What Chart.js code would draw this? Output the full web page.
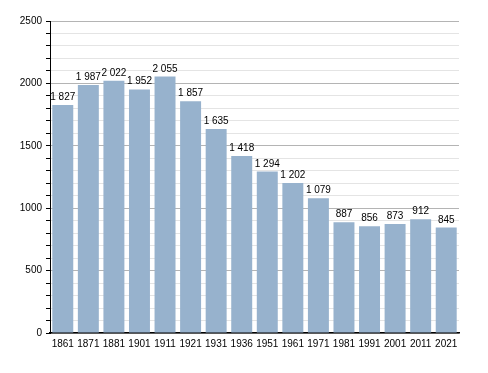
<!DOCTYPE html>
<html>
<head>
<meta charset="utf-8">
<script src="https://cdn.jsdelivr.net/npm/chart.js@4"></script>
<style>
  html, body { margin: 0; padding: 0; background: #fff; }
  #wrap { width: 488px; height: 373px; }
</style>
</head>
<body>
<div id="wrap"><canvas id="pop"></canvas></div>
<script>
const years = ["1861", "1871", "1881", "1901", "1911", "1921", "1931", "1936",
  "1951", "1961", "1971", "1981", "1991", "2001", "2011", "2021"];
const population = [1827, 1987, 2022, 1952, 2055, 1857, 1635, 1418,
  1294, 1202, 1079, 887, 856, 873, 912, 845];
const yTicks = [0, 500, 1000, 1500, 2000, 2500];

const FONT = "'Liberation Sans', Arial, sans-serif";

// number with a space as thousand separator, like "1 827"
function fmt(n) {
  return String(n).replace(/\B(?=(\d{3})+(?!\d))/g, " ");
}

// value labels above each bar
const barLabels = {
  id: "barLabels",
  afterDatasetsDraw(chart) {
    const ctx = chart.ctx;
    const meta = chart.getDatasetMeta(0);
    ctx.save();
    ctx.font = "10px " + FONT;
    ctx.fillStyle = "#000";
    ctx.textAlign = "center";
    ctx.textBaseline = "alphabetic";
    meta.data.forEach((bar, i) => {
      ctx.fillText(fmt(population[i]), bar.x, bar.y - 5);
    });
    ctx.restore();
  }
};

new Chart(document.getElementById("pop"), {
  type: "bar",
  data: {
    labels: years,
    datasets: [
      {
        data: population,
        backgroundColor: "#97b2cd",
        borderWidth: 0,
        categoryPercentage: 1,
        barPercentage: 0.82,
      },
    ],
  },
  options: {
    responsive: true,
    maintainAspectRatio: false,
    animation: false,
    layout: { padding: { top: 21, right: 29, bottom: 0, left: 0 } },
    plugins: {
      legend: { display: false },
      tooltip: { enabled: false },
    },
    scales: {
      x: {
        grid: { display: false, drawTicks: false },
        border: { color: "#000", width: 1.5 },
        ticks: {
          color: "#000",
          padding: 5,
          maxRotation: 0,
          autoSkip: false,
          font: { family: FONT, size: 10 },
        },
        afterFit(scale) { scale.height = 40; },
      },
      y: {
        min: 0,
        max: 2500,
        border: { color: "#000", width: 1 },
        grid: {
          color: (c) => (c.tick && c.tick.value % 500 === 0 ? "#b4b4b4" : "#e4e4e4"),
          tickColor: "#000",
          tickLength: 4,
        },
        ticks: {
          stepSize: 100,
          autoSkip: false,
          color: "#000",
          padding: 4,
          font: { family: FONT, size: 10 },
          callback: (v) => (yTicks.includes(v) ? String(v) : ""),
        },
        afterFit(scale) { scale.width = 50; },
      },
    },
  },
  plugins: [barLabels],
});
</script>
</body>
</html>
